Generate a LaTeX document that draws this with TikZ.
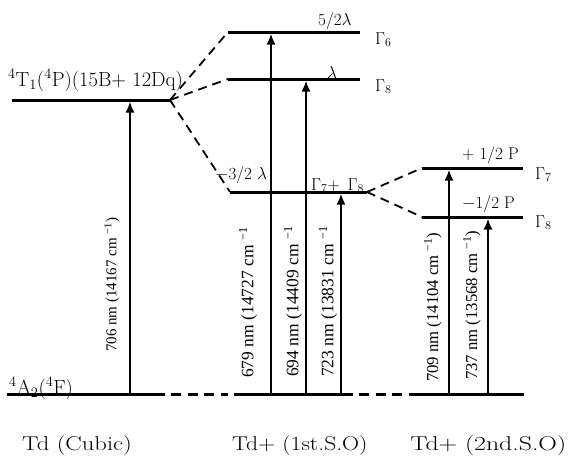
\documentclass[tikz,border=0pt]{standalone}
\usepackage{fontspec}
\newfontfamily\timesf{Liberation Serif}
\usetikzlibrary{arrows.meta}
\begin{document}
\begin{tikzpicture}[x=1pt,y=-1pt,
  level/.style={line width=3pt},
  gdash/.style={line width=3pt, dash pattern=on 10pt off 6.5pt, shorten <=6pt, shorten >=6pt},
  conn/.style={line width=1.8pt, dash pattern=on 9pt off 6pt},
  trans/.style={line width=2pt, -{Latex[length=11pt,width=9pt]}, shorten >=1.5pt},
  wl/.style={font=\timesf\fontsize{17.5}{17.5}\selectfont, rotate=90, anchor=west, inner sep=0pt},
  lv/.style={font=\fontsize{17}{17}\selectfont, inner sep=0pt, anchor=base west},
  big/.style={font=\fontsize{20.5}{20.5}\selectfont, inner sep=0pt, anchor=base west},
  capt/.style={font=\fontsize{20}{20}\selectfont, inner sep=0pt, anchor=base west},
]
\useasboundingbox (0,0) rectangle (568,458);
% level end points
\coordinate (T1a) at (12,100);  \coordinate (T1b) at (170,100);
\coordinate (G6a) at (228,32);  \coordinate (G6b) at (360,32);
\coordinate (G8a) at (228,79);  \coordinate (G8b) at (360,79);
\coordinate (Ma) at (230,192);  \coordinate (Mb) at (367,192);
\coordinate (R7a) at (422,168); \coordinate (R7b) at (523,168);
\coordinate (R8a) at (422,217); \coordinate (R8b) at (523,217);
\coordinate (Ga) at (7,394);   \coordinate (Gb) at (165,394);
\coordinate (Gc) at (234,394); \coordinate (Gd) at (353,394);
\coordinate (Ge) at (409,394); \coordinate (Gf) at (524,394);
% levels
\draw[level] (T1a) -- (T1b);
\draw[level] (G6a) -- (G6b);
\draw[level] (G8a) -- (G8b);
\draw[level] (Ma) -- (Mb);
\draw[level] (R7a) -- (R7b);
\draw[level] (R8a) -- (R8b);
\draw[level] (Ga) -- (Gb);
\draw[gdash] (Gb) -- (Gc);
\draw[level] (Gc) -- (Gd);
\draw[gdash] (Gd) -- (Ge);
\draw[level] (Ge) -- (Gf);
% splitting connectors
\draw[conn] (T1b) -- (G6a);
\draw[conn] (T1b) -- (G8a);
\draw[conn] (T1b) -- (Ma);
\draw[conn] (Mb) -- (R7a);
\draw[conn] (Mb) -- (R8a);
% transitions
\coordinate (A1) at (130,394);
\coordinate (B1) at (271,394);
\coordinate (B2) at (306,394);
\coordinate (B3) at (341,394);
\coordinate (C1) at (449,394);
\coordinate (C2) at (488,394);
\draw[trans] (A1) -- (A1 |- T1b);
\draw[trans] (B1) -- (B1 |- G6a);
\draw[trans] (B2) -- (B2 |- G8a);
\draw[trans] (B3) -- (B3 |- Ma);
\draw[trans] (C1) -- (C1 |- R7a);
\draw[trans] (C2) -- (C2 |- R8a);
% wavelength labels
\node[wl, font=\timesf\fontsize{15}{15}\selectfont] (l706) at (112,352) {706 nm (14167 cm \textsuperscript{−1})};
\node[wl] (l679) at (248,378) {679 nm (14727 cm \textsuperscript{−1}};
\node[wl] (l694) at (293,377) {694 nm (14409 cm \textsuperscript{−1}};
\node[wl] (l723) at (328,377) {723 nm (13831 cm \textsuperscript{−1}};
\node[wl, font=\timesf\fontsize{16.7}{16.7}\selectfont] (l709) at (433,382) {709 nm (14104 cm \textsuperscript{−1})};
\node[wl, font=\timesf\fontsize{16.7}{16.7}\selectfont] (l737) at (472,380) {737 nm (13568 cm \textsuperscript{−1})};
% level labels
\node[big] (t1) at (8,86) {$^4$T$_1$($^4$P)(15B+ 12Dq)};
\node[big] (a2) at (9,394) {$^4$A$_2$($^4$F)};
\node[lv] (s52) at (318,25) {5/2$\lambda$};
\node[lv] (s1) at (327,78) {$\lambda$};
\node[lv] (s32) at (215,179) {$-$3/2 $\lambda$};
\node[lv] (s78) at (311,190) {$\Gamma_7$+ \,$\Gamma_8$};
\node[lv] (sp) at (462,159) {+ 1/2 P};
\node[lv] (sm) at (462,208) {$-$1/2 P};
\node[lv] (g6) at (375,44) {$\Gamma_6$};
\node[lv] (g8) at (375,91) {$\Gamma_8$};
\node[lv] (r7) at (535,179) {$\Gamma_7$};
\node[lv] (r8) at (535,227) {$\Gamma_8$};
% captions
\node[capt, xscale=1.23] (c1) at (22,450) {Td (Cubic)};
\node[capt, xscale=1.18] (c2) at (232,450) {Td+ (1st.S.O)};
\node[capt, xscale=1.29] (c3) at (410,450) {Td+ (2nd.S.O)};
\end{tikzpicture}
\end{document}
